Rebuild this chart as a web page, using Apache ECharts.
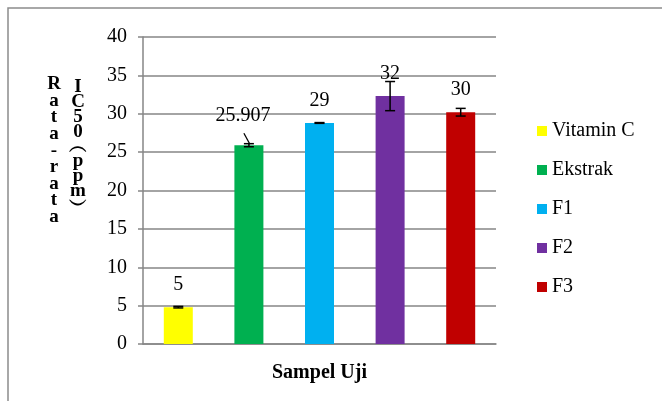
<!DOCTYPE html>
<html>
<head>
<meta charset="utf-8">
<script src="https://cdn.jsdelivr.net/npm/echarts@6/dist/echarts.min.js"></script>
<style>html,body{margin:0;padding:0;background:#fff;}#c{width:662px;height:401px;}</style>
</head>
<body>
<div id="c"></div>
<script>
var categories = ['Vitamin C', 'Ekstrak', 'F1', 'F2', 'F3'];
var values = [4.8, 25.9, 28.8, 32.3, 30.2];
var errors = [0.1, 0.2, 0.05, 1.9, 0.5];
var valueLabels = ['5', '25.907', '29', '32', '30'];
var colors = ['#FFFF00', '#00B050', '#00B0F0', '#7030A0', '#C00000'];
var yTicks = [0, 5, 10, 15, 20, 25, 30, 35, 40];
var yTitle1 = 'Rata-rata';
var yTitle2 = 'IC50(ppm)';

var FONT = "'Liberation Serif', 'Times New Roman', serif";
var chart = echarts.init(document.getElementById('c'));

var barSeries = categories.map(function (name, i) {
  return {
    name: name,
    type: 'bar',
    stack: 'all',
    barWidth: 29,
    itemStyle: { color: colors[i] },
    data: categories.map(function (c, j) { return j === i ? values[i] : '-'; })
  };
});

var errData = values.map(function (v, i) { return [i, v, errors[i]]; });

function vertChars(s) {
  return s.split('').map(function (ch) {
    if (ch === '(') return '\uFE35';
    if (ch === ')') return '\uFE36';
    return ch;
  }).join('\n');
}

var option = {
  animation: false,
  backgroundColor: '#fff',
  textStyle: { fontFamily: FONT },
  grid: { left: 143, top: 37, width: 353, height: 307, containLabel: false },
  legend: {
    orient: 'vertical',
    left: 532,
    top: 115,
    itemWidth: 10,
    itemHeight: 10,
    itemGap: 17,
    icon: 'rect',
    textStyle: { fontFamily: FONT, fontSize: 20, color: '#000', lineHeight: 22 },
    data: categories
  },
  xAxis: {
    type: 'category',
    data: categories,
    axisLabel: { show: false },
    axisTick: { show: false },
    axisLine: { lineStyle: { color: '#868686', width: 1.5 } },
    name: 'Sampel Uji',
    nameLocation: 'middle',
    nameGap: 19,
    nameTextStyle: { fontFamily: FONT, fontSize: 20, fontWeight: 'bold', color: '#000' }
  },
  yAxis: {
    type: 'value',
    min: yTicks[0],
    max: yTicks[yTicks.length - 1],
    interval: yTicks[1] - yTicks[0],
    axisLine: { show: true, lineStyle: { color: '#868686', width: 1.5 } },
    axisTick: { show: true, length: 5, lineStyle: { color: '#868686', width: 1.5 } },
    axisLabel: { fontFamily: FONT, fontSize: 20, color: '#000', margin: 16 },
    splitLine: { lineStyle: { color: '#868686', width: 1.5 } }
  },
  graphic: [
    { type: 'rect', shape: { x: 8, y: 8, width: 700, height: 450 }, style: { fill: null, stroke: '#8c8c8c', lineWidth: 1.5 }, silent: true },
    { type: 'text', x: 54, y: 76, style: { text: vertChars(yTitle1), font: 'bold 19px ' + FONT, fill: '#000', lineHeight: 16.6, textAlign: 'center', textVerticalAlign: 'top' } },
    { type: 'text', x: 78, y: 80, style: { text: vertChars(yTitle2), font: 'bold 19px ' + FONT, fill: '#000', lineHeight: 14.8, textAlign: 'center', textVerticalAlign: 'top' } }
  ],
  series: barSeries.concat([{
    type: 'custom',
    name: 'err',
    silent: true,
    z: 10,
    data: errData,
    renderItem: function (params, api) {
      var i = api.value(0), v = api.value(1), e = api.value(2);
      var top = api.coord([i, v + e]);
      var bot = api.coord([i, v - e]);
      var mid = api.coord([i, v]);
      var cap = 5;
      var children = [
        { type: 'line', shape: { x1: top[0], y1: top[1], x2: bot[0], y2: bot[1] }, style: { stroke: '#000', lineWidth: 1.5 } },
        { type: 'line', shape: { x1: top[0] - cap, y1: top[1], x2: top[0] + cap, y2: top[1] }, style: { stroke: '#000', lineWidth: 1.5 } },
        { type: 'line', shape: { x1: bot[0] - cap, y1: bot[1], x2: bot[0] + cap, y2: bot[1] }, style: { stroke: '#000', lineWidth: 1.5 } }
      ];
      var lx = mid[0], ly = mid[1] - 22;
      if (valueLabels[params.dataIndex].length > 3) {
        lx = mid[0] - 6; ly = mid[1] - 29;
        children.push({ type: 'line', shape: { x1: mid[0] - 5, y1: mid[1] - 12, x2: mid[0] + 1, y2: mid[1] - 1 }, style: { stroke: '#000', lineWidth: 1.3 } });
      }
      children.push({ type: 'text', style: { x: lx, y: ly, text: valueLabels[params.dataIndex], font: '20px ' + FONT, fill: '#000', textAlign: 'center', textVerticalAlign: 'middle' } });
      return { type: 'group', children: children };
    }
  }])
};
chart.setOption(option);
</script>
</body>
</html>
